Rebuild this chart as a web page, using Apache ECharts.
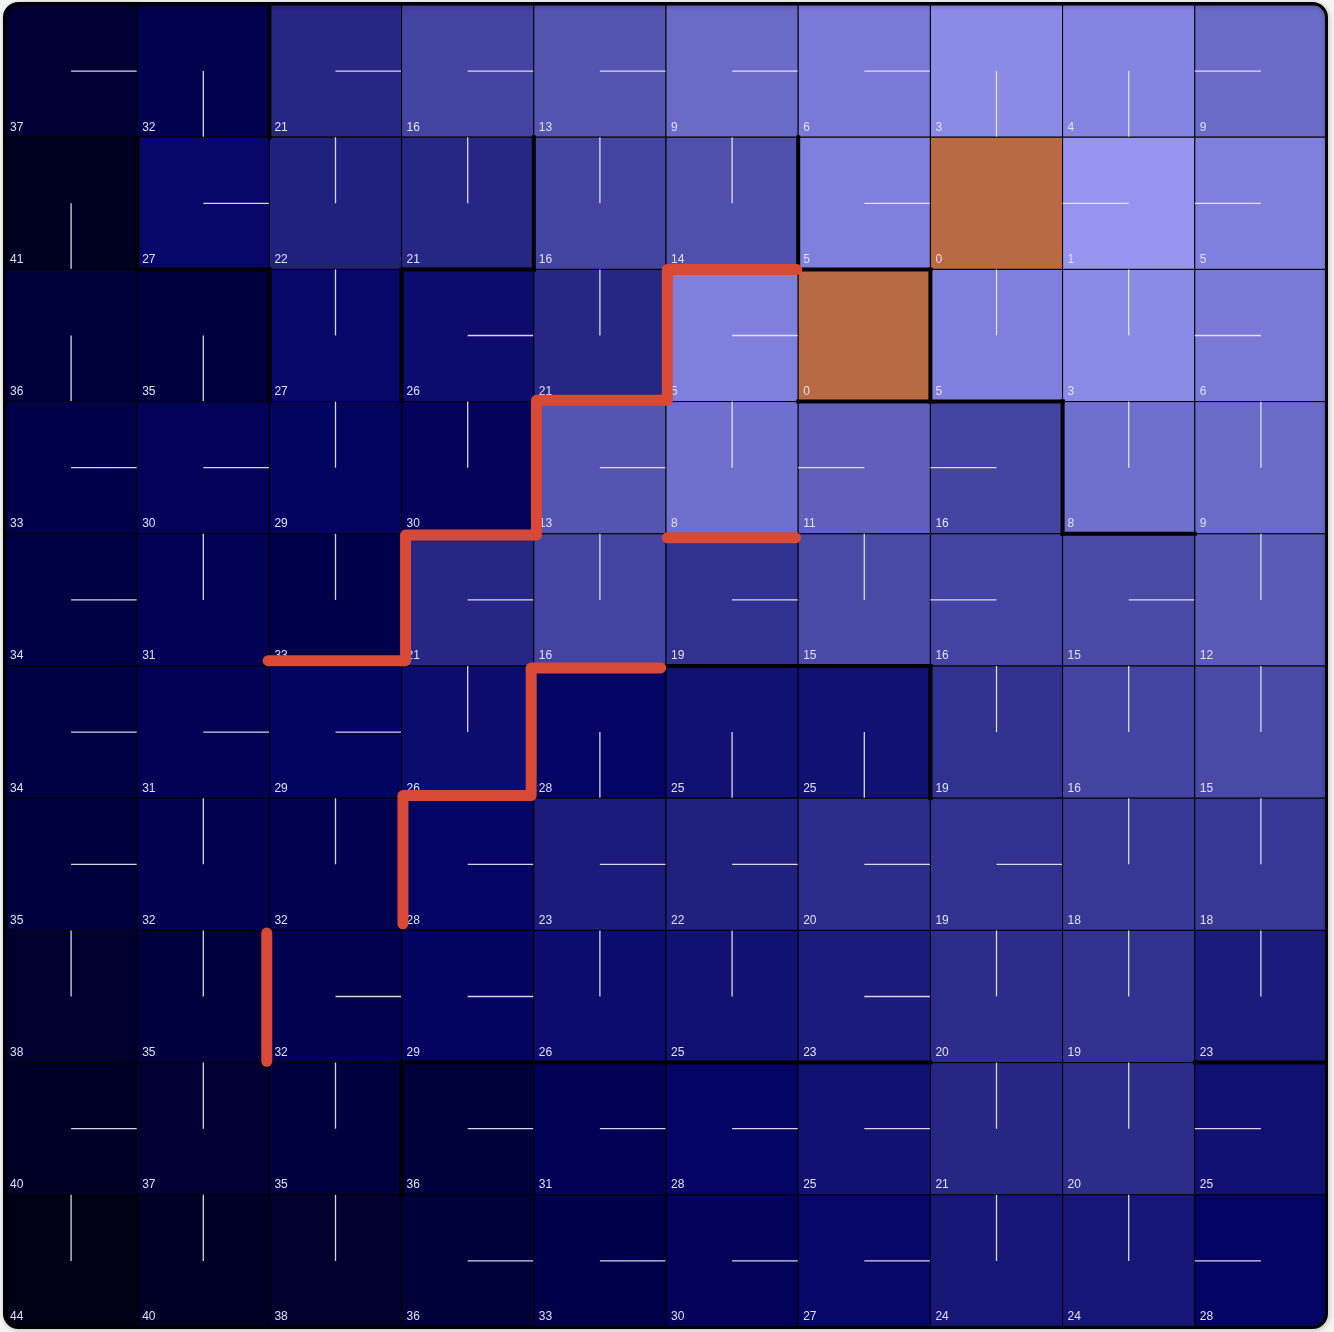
<!DOCTYPE html>
<html>
<head>
<meta charset="utf-8">
<title>Value grid</title>
<script src="https://cdn.jsdelivr.net/npm/echarts@6/dist/echarts.min.js"></script>
<style>
    html, body { margin: 0; padding: 0; background: #f5f5f5; }
    #chart { width: 1334px; height: 1332px; }
</style>
</head>
<body>
<div id="chart"></div>
<script>
// values per row, top row first
const row0 = [37, 32, 21, 16, 13, 9, 6, 3, 4, 9]
const row1 = [41, 27, 22, 21, 16, 14, 5, 0, 1, 5]
const row2 = [36, 35, 27, 26, 21, 5, 0, 5, 3, 6]
const row3 = [33, 30, 29, 30, 13, 8, 11, 16, 8, 9]
const row4 = [34, 31, 33, 21, 16, 19, 15, 16, 15, 12]
const row5 = [34, 31, 29, 26, 28, 25, 25, 19, 16, 15]
const row6 = [35, 32, 32, 28, 23, 22, 20, 19, 18, 18]
const row7 = [38, 35, 32, 29, 26, 25, 23, 20, 19, 23]
const row8 = [40, 37, 35, 36, 31, 28, 25, 21, 20, 25]
const row9 = [44, 40, 38, 36, 33, 30, 27, 24, 24, 28]
const rows = [row0, row1, row2, row3, row4, row5, row6, row7, row8, row9]

// policy per cell: R right, L left, U up, D down, . none
const directions = [
    'RDRRRRRDDL',
    'DRUUUUR.LL',
    'DDURUR.UUL',
    'RRUURULLUU',
    'RUURURULRU',
    'RRRUDDDUUU',
    'RUURRRRRUU',
    'UURRUURUUU',
    'RUURRRRUUL',
    'UUURRRRUUL',
]

// walls in grid units [x1, y1, x2, y2]
const walls = [
    [2, 0, 2, 1], [1, 1, 1, 2], [1, 2, 2, 2], [2, 2, 2, 3],
    [4, 1, 4, 2], [3, 2, 4, 2], [3, 2, 3, 3],
    [6, 1, 6, 2], [6, 2, 7, 2], [7, 2, 7, 3], [6, 3, 8, 3],
    [8, 3, 8, 4], [8, 4, 9, 4],
    [5, 5, 7, 5], [7, 5, 7, 6],
    [3, 8, 7, 8], [9, 8, 10, 8], [3, 8, 3, 9],
]

// red boundary lines in grid units (hand drawn, slightly off the cell edges)
const path1 = [[5.99, 2.0], [5.01, 2.0], [5.01, 2.99], [4.02, 2.99], [4.02, 4.01], [3.03, 4.01], [3.03, 4.96], [1.99, 4.96]]
const path2 = [[4.96, 5.015], [3.98, 5.015], [3.98, 5.98], [3.01, 5.98], [3.01, 6.95]]
const path3 = [[1.98, 7.02], [1.98, 7.99]]
const path4 = [[5.01, 4.03], [5.98, 4.03]]
const paths = [path1, path2, path3, path4]

const GOAL_COLOR = '#b96a44'
const PATH_COLOR = '#d94a36'
const GRID = { left: 5, top: 5, size: 1322 }

const cellData = []
rows.forEach((vals, r) => {
    vals.forEach((v, c) => cellData.push([c, r, v]))
})

function renderCell(params, api) {
    const col = api.value(0)
    const row = api.value(1)
    const v = api.value(2)
    const p0 = api.coord([col, row])
    const p1 = api.coord([col + 1, row + 1])
    const x = p0[0], y = p0[1]
    const w = p1[0] - x, h = p1[1] - y
    const cx = x + w / 2, cy = y + h / 2
    const children = [{
        type: 'rect',
        shape: { x: x, y: y, width: w, height: h },
        style: { fill: v === 0 ? GOAL_COLOR : api.visual('color'), stroke: '#000', lineWidth: 1 },
    }]
    const ends = { R: [x + w, cy], L: [x, cy], U: [cx, y], D: [cx, y + h] }
    const end = ends[directions[row][col]]
    if (end) {
        children.push({
            type: 'line',
            shape: { x1: cx, y1: cy, x2: end[0], y2: end[1] },
            style: { stroke: 'rgba(235,235,245,0.9)', lineWidth: 1.3 },
        })
    }
    children.push({
        type: 'text',
        x: x + 5,
        y: y + h - 4,
        style: {
            text: String(v),
            fill: '#e0e0f2',
            font: '12px "Liberation Sans"',
            align: 'left',
            verticalAlign: 'bottom',
        },
    })
    return { type: 'group', children: children }
}

function renderWall(params, api) {
    const a = api.coord([api.value(0), api.value(1)])
    const b = api.coord([api.value(2), api.value(3)])
    return {
        type: 'line',
        shape: { x1: a[0], y1: a[1], x2: b[0], y2: b[1] },
        style: { stroke: '#000', lineWidth: 4, lineCap: 'square' },
    }
}

// mask the square corners outside the rounded frame
function cornerMask(cx, cy, sx, sy, r) {
    const pts = [[cx - sx * 3, cy - sy * 3], [cx + sx * r, cy - sy * 3]]
    for (let i = 0; i <= 12; i++) {
        const t = (Math.PI / 2) * (i / 12)
        pts.push([cx + sx * (r - r * Math.sin(t)), cy + sy * (r - r * Math.cos(t))])
    }
    pts.push([cx - sx * 3, cy + sy * r])
    return { type: 'polygon', z: 100, shape: { points: pts }, style: { fill: '#f5f5f5' }, silent: true }
}

const chart = echarts.init(document.getElementById('chart'))
const x0 = GRID.left - 0.5, y0 = GRID.top - 1.5
const x1 = GRID.left + GRID.size - 0.5, y1 = GRID.top + GRID.size + 0.5
const R = 14

chart.setOption({
    animation: false,
    backgroundColor: '#f5f5f5',
    grid: { left: GRID.left, top: GRID.top, width: GRID.size, height: GRID.size },
    xAxis: { type: 'value', min: 0, max: 10, show: false },
    yAxis: { type: 'value', min: 0, max: 10, inverse: true, show: false },
    visualMap: {
        show: false,
        type: 'continuous',
        seriesIndex: 0,
        dimension: 2,
        min: 0,
        max: 44,
        inRange: {
            color: ['#9a9af5', '#7c7cdb', '#6060bc', '#40409e', '#20207f', '#040468', '#00004a', '#00002c', '#000016'],
        },
    },
    series: [
        {
            type: 'custom',
            renderItem: renderCell,
            data: cellData,
            encode: { x: 0, y: 1 },
            z: 2,
            silent: true,
        },
        {
            type: 'custom',
            renderItem: renderWall,
            data: walls,
            encode: { x: [0, 2], y: [1, 3] },
            clip: true,
            z: 3,
            silent: true,
        },
    ].concat(paths.map(pts => ({
        type: 'line',
        data: pts,
        symbol: 'none',
        z: 4,
        silent: true,
        lineStyle: { color: PATH_COLOR, width: 11, cap: 'round', join: 'round' },
    }))),
    graphic: [
        cornerMask(x0, y0, 1, 1, R),
        cornerMask(x1, y0, -1, 1, R),
        cornerMask(x0, y1, 1, -1, R),
        cornerMask(x1, y1, -1, -1, R),
        {
            type: 'rect',
            z: 101,
            silent: true,
            shape: { x: x0, y: y0, width: x1 - x0, height: y1 - y0, r: R },
            style: {
                fill: 'none', stroke: '#000', lineWidth: 3,
                shadowBlur: 5, shadowColor: 'rgba(0,0,0,0.3)', shadowOffsetX: 1, shadowOffsetY: 1,
            },
        },
    ],
})
</script>
</body>
</html>
